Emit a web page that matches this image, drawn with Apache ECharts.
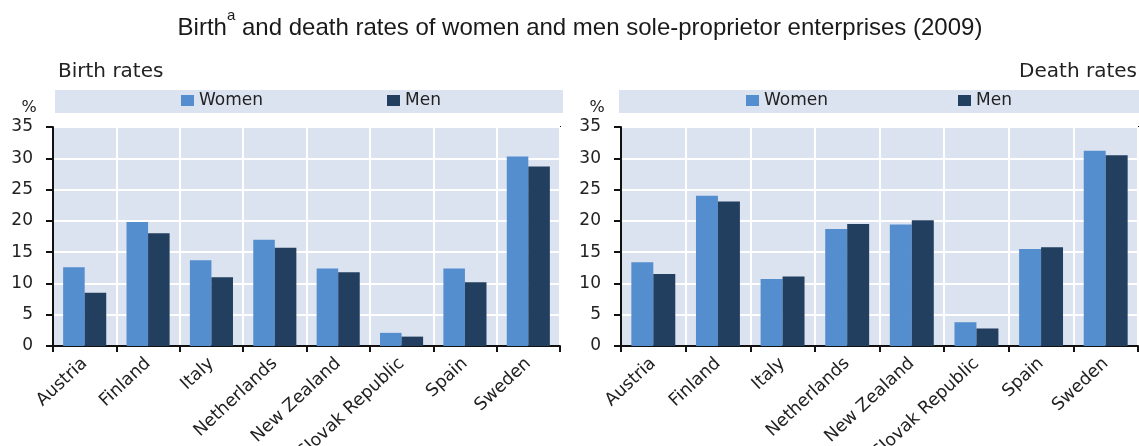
<!DOCTYPE html>
<html>
<head>
<meta charset="utf-8">
<script src="https://cdn.jsdelivr.net/npm/echarts@6/dist/echarts.min.js"></script>
<style>html,body{margin:0;padding:0;background:#fff}#c{width:1139px;height:446px}</style>
</head>
<body>
<div id="c"></div>
<script>
const categories = ['Austria','Finland','Italy','Netherlands','New Zealand','Slovak Republic','Spain','Sweden'];
const birthWomen = [12.6, 19.8, 13.7, 17.0, 12.4, 2.1, 12.4, 30.3];
const birthMen   = [8.5, 18.0, 11.0, 15.7, 11.8, 1.5, 10.2, 28.7];
const deathWomen = [13.4, 24.0, 10.7, 18.7, 19.4, 3.8, 15.5, 31.2];
const deathMen   = [11.5, 23.1, 11.1, 19.5, 20.1, 2.8, 15.8, 30.5];
const yMin = 0, yMax = 35, yStep = 5;
const seriesNames = ['Women', 'Men'];

const WOMEN = '#548ecf', MEN = '#233f60', BG = '#dce3f0', TXT = '#222';
const FONT = 'DejaVu Sans';

function xAxis(gi) {
  return {
    type: 'category', gridIndex: gi, data: categories, boundaryGap: true,
    axisLine: { show: true, lineStyle: { color: '#111', width: 2 } },
    axisTick: { show: true, length: 6, lineStyle: { color: '#111', width: 2 } },
    splitLine: { show: true, lineStyle: { color: '#fff', width: 2 } },
    axisLabel: { rotate: 43, margin: 15, fontFamily: FONT, fontSize: 17.5, color: TXT, interval: 0, hideOverlap: false, padding: [0, 0, 0, 0] }
  };
}
function yAxis(gi) {
  return {
    type: 'value', gridIndex: gi, min: yMin, max: yMax, interval: yStep,
    axisLine: { show: true, lineStyle: { color: '#111', width: 2 } },
    axisTick: { show: true, length: 7, lineStyle: { color: '#111', width: 2 } },
    splitLine: { show: true, lineStyle: { color: '#fff', width: 2 } },
    axisLabel: { margin: 20, fontFamily: FONT, fontSize: 17, color: TXT }
  };
}
function bar(name, data, gi, color) {
  return {
    name: name, type: 'bar', xAxisIndex: gi, yAxisIndex: gi, data: data,
    barGap: '0%', barCategoryGap: '32%', itemStyle: { color: color }, animation: false
  };
}
const legendText = { fontFamily: FONT, fontSize: 17, color: TXT };

const chart = echarts.init(document.getElementById('c'), null, { renderer: 'canvas' });
chart.setOption({
  animation: false,
  graphic: [
    { type: 'rect', shape: { x: 55, y: 90, width: 508, height: 23 }, style: { fill: BG }, z: -1 },
    { type: 'rect', shape: { x: 619, y: 90, width: 520, height: 23 }, style: { fill: BG }, z: -1 },
    { type: 'text', x: 580, y: 8, style: {
        text: '{m|Birth}{sup|a}{m| and death rates of women and men sole-proprietor enterprises (2009)}',
        align: 'center', verticalAlign: 'top', fill: '#1a1a1a',
        rich: {
          m: { fontSize: 24, fontFamily: 'Liberation Sans', lineHeight: 32, verticalAlign: 'bottom', fill: '#1a1a1a' },
          sup: { fontSize: 15, fontFamily: 'Liberation Sans', lineHeight: 16, verticalAlign: 'top', fill: '#1a1a1a' }
        }
      } },
    { type: 'text', x: 58, y: 62, style: { text: 'Birth rates', fill: TXT, font: '20px "DejaVu Sans"', verticalAlign: 'top' } },
    { type: 'text', x: 1137, y: 62, style: { text: 'Death rates', fill: TXT, font: '20px "DejaVu Sans"', align: 'right', verticalAlign: 'top' } },
    { type: 'text', x: 29, y: 100, style: { text: '%', fill: TXT, font: '16px "DejaVu Sans"', align: 'center', verticalAlign: 'top' } },
    { type: 'text', x: 597, y: 100, style: { text: '%', fill: TXT, font: '16px "DejaVu Sans"', align: 'center', verticalAlign: 'top' } }
  ],
  legend: [
    { left: 181, top: 92, padding: 0, itemWidth: 13, itemHeight: 11, itemGap: 124, icon: 'rect', data: seriesNames, textStyle: legendText, selectedMode: false },
    { left: 746, top: 92, padding: 0, itemWidth: 13, itemHeight: 11, itemGap: 130, icon: 'rect', data: seriesNames, textStyle: legendText, selectedMode: false }
  ],
  grid: [
    { left: 53, top: 127, width: 507, height: 219, show: true, backgroundColor: BG, borderColor: '#111', borderWidth: 2, containLabel: false, outerBoundsMode: 'none' },
    { left: 621, top: 127, width: 517, height: 219, show: true, backgroundColor: BG, borderColor: '#111', borderWidth: 2, containLabel: false, outerBoundsMode: 'none' }
  ],
  xAxis: [xAxis(0), xAxis(1)],
  yAxis: [yAxis(0), yAxis(1)],
  series: [
    bar(seriesNames[0], birthWomen, 0, WOMEN),
    bar(seriesNames[1], birthMen, 0, MEN),
    bar(seriesNames[0], deathWomen, 1, WOMEN),
    bar(seriesNames[1], deathMen, 1, MEN)
  ]
});
</script>
</body>
</html>
